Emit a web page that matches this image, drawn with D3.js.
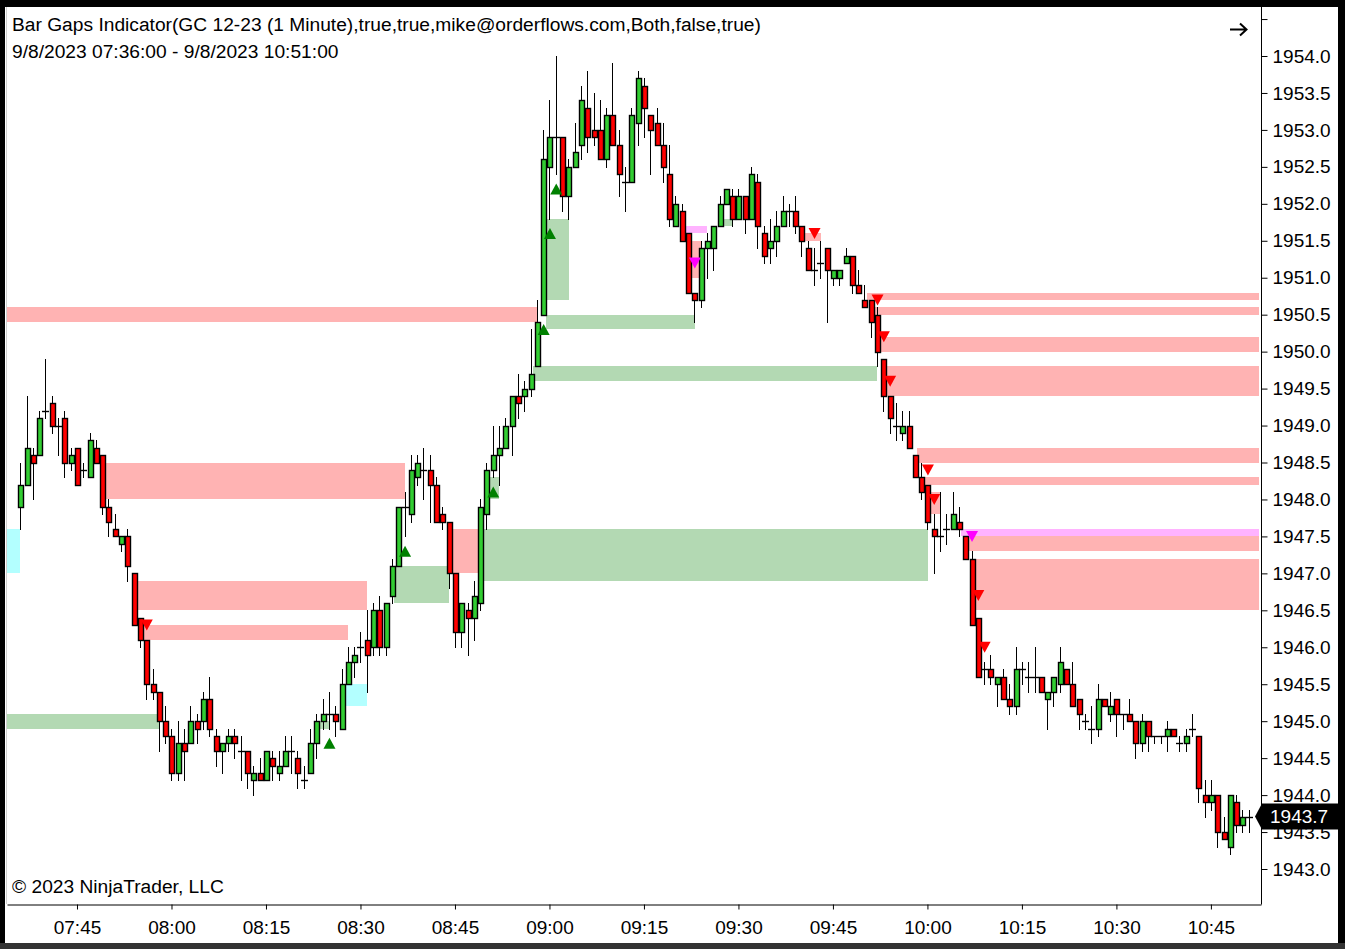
<!DOCTYPE html>
<html><head><meta charset="utf-8">
<script src="https://cdn.jsdelivr.net/npm/d3@7/dist/d3.min.js"></script>
<style>
html,body{margin:0;padding:0;background:#fff;overflow:hidden;}
svg{display:block;font-family:"Liberation Sans",Arial,sans-serif;}
</style></head><body>
<script>
// ---------- DATA ----------
const titleText = "Bar Gaps Indicator(GC 12-23 (1 Minute),true,true,mike@orderflows.com,Both,false,true)";
const rangeText = "9/8/2023 07:36:00 - 9/8/2023 10:51:00";
const copyrightText = "\u00A9 2023 NinjaTrader, LLC";
const startTime = "2023-09-08 07:36";
const lastPriceLabel = "1943.7";

const opens = [1947.9,1948.2,1948.6,1948.6,1949.2,1949.3,1949.0,1949.1,1948.5,1948.7,
1948.4,1948.3,1948.7,1948.6,1947.9,1947.6,1947.4,1947.5,1947.0,1946.4,
1946.1,1945.5,1945.4,1945.0,1944.8,1944.3,1944.7,1944.7,1945.0,1945.0,
1945.3,1944.8,1944.6,1944.7,1944.8,1944.6,1944.6,1944.2,1944.3,1944.2,
1944.5,1944.3,1944.4,1944.6,1944.5,1944.2,1944.3,1944.7,1945.0,1945.1,
1945.1,1944.9,1945.5,1945.8,1946.0,1946.1,1946.0,1946.5,1946.0,1946.7,
1947.1,1947.9,1947.8,1948.3,1948.4,1948.4,1948.2,1947.8,1947.7,1947.0,
1946.2,1946.5,1946.4,1946.6,1947.8,1948.4,1948.6,1948.7,1949.0,1949.4,
1949.4,1949.5,1949.8,1950.5,1952.5,1952.9,1952.9,1952.1,1952.5,1952.8,
1953.3,1953.0,1953.0,1952.6,1953.2,1952.8,1952.3,1952.3,1953.1,1953.6,
1953.2,1953.1,1952.8,1952.4,1951.7,1951.9,1951.6,1950.8,1950.7,1951.4,
1951.4,1951.7,1952.0,1952.1,1951.8,1952.1,1951.8,1952.3,1951.6,1951.4,
1951.5,1951.7,1951.9,1951.9,1951.7,1951.4,1951.1,1951.2,1951.4,1951.0,
1951.0,1951.2,1951.3,1950.9,1950.7,1950.7,1950.5,1949.9,1949.4,1949.0,
1948.9,1949.0,1948.6,1948.3,1948.2,1947.6,1947.5,1947.6,1947.6,1947.7,
1947.5,1947.2,1946.4,1945.7,1945.7,1945.5,1945.6,1945.3,1945.2,1945.7,
1945.6,1945.6,1945.6,1945.3,1945.4,1945.5,1945.7,1945.5,1945.3,1945.0,
1944.9,1944.9,1945.3,1945.1,1945.3,1945.1,1945.1,1945.0,1944.7,1945.0,
1944.8,1944.8,1944.8,1944.9,1944.7,1944.7,1944.9,1944.8,1944.0,1943.9,
1944.0,1943.5,1943.3,1943.9,1943.6,1943.7];
const highs = [1948.5,1949.4,1948.7,1949.2,1949.9,1949.4,1949.1,1949.2,1948.7,1948.7,
1948.5,1948.9,1948.8,1948.6,1948.0,1947.8,1947.5,1947.6,1947.0,1946.4,
1946.1,1945.7,1945.4,1945.2,1944.9,1945.0,1944.9,1945.2,1945.1,1945.4,
1945.6,1944.9,1944.7,1944.9,1944.9,1944.8,1944.6,1944.4,1944.5,1944.6,
1944.6,1944.6,1944.8,1944.8,1944.6,1944.4,1944.9,1945.1,1945.3,1945.4,
1945.2,1945.7,1946.0,1946.0,1946.2,1946.5,1946.6,1946.7,1946.6,1947.2,
1947.9,1948.1,1948.6,1948.6,1948.7,1948.6,1948.3,1947.9,1947.7,1947.0,
1946.6,1946.6,1946.9,1948.0,1948.5,1949.0,1949.0,1949.1,1949.4,1949.7,
1949.6,1950.3,1950.7,1953.0,1953.4,1954.0,1952.9,1952.6,1953.1,1953.6,
1953.8,1953.5,1953.4,1953.3,1953.9,1953.0,1952.5,1953.3,1953.8,1953.7,
1953.2,1953.3,1953.1,1952.8,1952.1,1952.0,1951.6,1950.8,1951.5,1951.6,
1951.7,1952.1,1952.2,1952.2,1952.2,1952.1,1952.5,1952.4,1951.7,1951.8,
1951.9,1952.1,1952.0,1952.1,1951.7,1951.5,1951.4,1951.5,1951.4,1951.1,
1951.1,1951.4,1951.3,1951.1,1950.9,1950.7,1950.6,1949.9,1949.4,1949.3,
1949.2,1949.2,1948.6,1948.5,1948.2,1947.8,1948.1,1947.8,1948.1,1947.9,
1947.5,1947.3,1946.4,1945.8,1945.9,1945.6,1945.7,1945.5,1946.0,1945.8,
1945.8,1946.0,1945.6,1945.4,1945.6,1946.0,1945.7,1945.8,1945.3,1945.1,
1945.2,1945.5,1945.3,1945.4,1945.3,1945.1,1945.3,1945.0,1945.1,1945.0,
1944.8,1944.8,1945.0,1944.9,1944.8,1944.9,1945.1,1944.8,1944.2,1944.2,
1944.0,1943.7,1944.0,1944.0,1943.8,1943.8];
const lows = [1947.6,1948.2,1948.0,1948.6,1949.1,1948.9,1948.6,1948.3,1948.4,1948.2,
1948.3,1948.3,1948.5,1947.8,1947.5,1947.5,1947.3,1946.9,1946.3,1946.0,
1945.3,1945.3,1944.6,1944.7,1944.2,1944.2,1944.2,1944.7,1944.7,1944.9,
1944.8,1944.4,1944.3,1944.6,1944.5,1944.2,1944.1,1944.0,1944.2,1944.2,
1944.2,1944.2,1944.4,1944.3,1944.1,1944.1,1944.3,1944.5,1944.9,1944.9,
1944.8,1944.9,1945.5,1945.6,1945.8,1945.4,1945.9,1945.9,1945.9,1946.6,
1947.1,1947.5,1947.7,1948.2,1948.0,1947.7,1947.7,1947.6,1946.8,1946.0,
1946.0,1945.9,1946.1,1946.5,1947.6,1948.3,1948.2,1948.7,1948.6,1949.1,
1949.2,1949.4,1949.8,1950.5,1951.8,1952.4,1951.9,1951.8,1952.5,1952.6,
1952.7,1952.8,1952.6,1952.5,1952.8,1952.1,1951.9,1952.3,1952.8,1952.9,
1952.4,1952.8,1952.3,1951.7,1951.7,1951.5,1950.8,1950.4,1950.6,1951.0,
1951.1,1951.7,1952.0,1951.7,1951.8,1951.6,1951.8,1951.4,1951.2,1951.2,
1951.3,1951.7,1951.7,1951.6,1951.3,1951.1,1950.9,1951.0,1950.4,1950.9,
1950.9,1951.2,1950.8,1950.8,1950.6,1950.2,1949.8,1949.2,1948.9,1948.8,
1948.8,1948.7,1948.3,1948.0,1947.6,1947.0,1947.3,1947.4,1947.6,1947.5,
1947.2,1946.3,1945.6,1945.5,1945.5,1945.2,1945.3,1945.1,1945.1,1945.5,
1945.4,1945.4,1945.4,1944.9,1945.2,1945.4,1945.5,1945.2,1944.9,1944.9,
1944.7,1944.8,1945.2,1945.0,1944.8,1944.9,1945.0,1944.5,1944.6,1944.6,
1944.7,1944.7,1944.6,1944.8,1944.6,1944.6,1944.8,1943.9,1943.7,1943.8,
1943.3,1943.4,1943.2,1943.5,1943.5,1943.5];
const closes = [1948.2,1948.7,1948.5,1949.1,1949.2,1949.0,1949.0,1948.5,1948.6,1948.2,
1948.4,1948.8,1948.5,1947.9,1947.7,1947.5,1947.5,1947.1,1946.3,1946.1,
1945.5,1945.4,1945.0,1944.8,1944.3,1944.7,1944.6,1945.0,1944.9,1945.3,
1944.9,1944.6,1944.7,1944.8,1944.7,1944.6,1944.3,1944.3,1944.2,1944.6,
1944.4,1944.4,1944.6,1944.6,1944.3,1944.2,1944.7,1945.0,1945.1,1945.1,
1945.0,1945.5,1945.8,1945.9,1946.0,1945.9,1946.5,1946.0,1946.6,1947.1,
1947.9,1947.9,1948.4,1948.5,1948.4,1948.2,1947.7,1947.7,1947.0,1946.2,
1946.6,1946.4,1946.7,1947.9,1948.4,1948.6,1948.7,1949.0,1949.4,1949.3,
1949.5,1949.7,1950.4,1952.6,1952.9,1952.9,1952.1,1952.5,1952.7,1953.4,
1952.9,1952.9,1952.6,1953.2,1952.8,1952.4,1952.3,1953.2,1953.7,1953.3,
1953.0,1952.8,1952.5,1951.8,1952.0,1951.5,1950.8,1950.7,1951.4,1951.5,
1951.7,1952.0,1952.2,1951.8,1952.1,1951.8,1952.4,1951.7,1951.3,1951.5,
1951.7,1951.9,1951.9,1951.7,1951.5,1951.1,1951.1,1951.2,1951.1,1951.1,
1951.1,1951.3,1950.9,1950.8,1950.6,1950.4,1950.0,1949.4,1949.1,1949.0,
1949.0,1948.7,1948.3,1948.1,1947.7,1947.5,1947.5,1947.6,1947.8,1947.6,
1947.2,1946.3,1945.6,1945.7,1945.6,1945.6,1945.3,1945.2,1945.7,1945.7,
1945.6,1945.6,1945.4,1945.4,1945.6,1945.8,1945.5,1945.2,1945.1,1945.0,
1944.9,1945.3,1945.2,1945.2,1945.1,1945.1,1945.0,1944.7,1945.0,1944.8,
1944.8,1944.8,1944.9,1944.8,1944.7,1944.8,1944.9,1944.1,1943.9,1944.0,
1943.5,1943.4,1944.0,1943.6,1943.7,1943.7];

// gap zones: start/end in bar index units, price top/bottom, kind
const gapStarts = [-3,-3,13.2,18.2,19.3,-3,51.4,47.3,59.3,68.0,73.1,74.2,81.4,83.4,83.3,105.3,106.3,111.4,124.3,134.4,135.3,136.4,137.3,142.3,143.3,144.2,149.3,150.2,151.3];
const gapEnds   = [82,0,61.1,55.0,52.0,22.0,55.0,49.0,68.0,73.1,144.1,76.0,136.0,107.1,87.1,109.0,108.2,113.1,127.1,196.7,196.7,196.7,196.7,196.7,196.7,146.1,196.7,196.7,196.7];
const gapTops   = [1950.6,1947.6,1948.5,1946.9,1946.3,1945.1,1945.5,1945.0,1947.1,1947.6,1947.6,1948.3,1949.8,1950.5,1951.8,1951.7,1951.5,1951.8,1951.6,1950.8,1950.6,1950.2,1949.8,1948.7,1948.3,1948.1,1947.6,1947.5,1947.2];
const gapBottoms= [1950.4,1947.0,1948.0,1946.5,1946.1,1944.9,1945.2,1944.9,1946.6,1947.0,1946.9,1948.0,1949.6,1950.3,1950.7,1951.6,1951.0,1951.7,1951.5,1950.7,1950.5,1950.0,1949.4,1948.5,1948.2,1947.8,1947.5,1947.3,1946.5];
const gapKinds  = ["bear","bullAlt","bear","bear","bear","bull","bullAlt","bull","bull","bear","bull","bull","bull","bull","bull","bearAlt","bear","bull","bear","bear","bear","bear","bear","bear","bear","bear","bearAlt","bear","bear"];

// signal markers
const markerBars   = [20,107,126,136,137,138,144,145,151,152,153,49,61,75,83,84,85];
const markerPrices = [1946.3,1951.2,1951.6,1950.7,1950.2,1949.6,1948.4,1948.0,1947.5,1946.7,1946.0,1944.7,1947.3,1948.1,1950.3,1951.6,1952.2];
const markerKinds  = ["down","downAlt","down","down","down","down","down","down","downAlt","down","down","up","up","up","up","up","up"];

const timeTicks  = ["07:45","08:00","08:15","08:30","08:45","09:00","09:15","09:30","09:45","10:00","10:15","10:30","10:45"];
const priceTicks = [1943.0,1943.5,1944.0,1944.5,1945.0,1945.5,1946.0,1946.5,1947.0,1947.5,1948.0,1948.5,1949.0,1949.5,1950.0,1950.5,1951.0,1951.5,1952.0,1952.5,1953.0,1953.5,1954.0,1954.5];
const priceLabels = ["1943.0","1943.5","1944.0","1944.5","1945.0","1945.5","1946.0","1946.5","1947.0","1947.5","1948.0","1948.5","1949.0","1949.5","1950.0","1950.5","1951.0","1951.5","1952.0","1952.5","1953.0","1953.5","1954.0"];
const lastPrice = 1943.7;

// ---------- STYLE ----------
const W = 1345, H = 949;
const plot = {l: 7, r: 1261, t: 7, b: 904};
const FONT = 19;
const TITLE_FONT = 19.2;
const gapColor = {bear: "#ffb3b3", bull: "#b3d9b3", bullAlt: "#b3ffff", bearAlt: "#ffb3ff"};
const markerColor = {down: "#ff0000", downAlt: "#ff00ff", up: "#008000"};
const upFill = "#32cd32", downFill = "#ff0000";

const parseT = d3.timeParse("%Y-%m-%d %H:%M");
const t0 = parseT(startTime);
const tAt = i => new Date(t0.getTime() + i * 60000);

const bars = opens.map((o, i) => ({i, t: tAt(i), o, h: highs[i], l: lows[i], c: closes[i]}));

const x = d3.scaleTime().domain([tAt(-2.1111), tAt(196.9524)]).range([plot.l, plot.r]);
const y = d3.scaleLinear().domain([1942.5265, 1954.663]).range([plot.b, plot.t]);

const svg = d3.select("body").append("svg").attr("width", W).attr("height", H);

// frame
svg.append("rect").attr("width", W).attr("height", H).attr("fill", "#000");
svg.append("rect").attr("x", 0).attr("y", 943).attr("width", W).attr("height", 6).attr("fill", "#333");
svg.append("rect").attr("x", 5).attr("y", 7).attr("width", 1333).attr("height", 936).attr("fill", "#fff");
svg.append("line").attr("x1", 6.5).attr("x2", 6.5).attr("y1", 7).attr("y2", 904).attr("stroke", "#d0d0d0");

svg.append("defs").append("clipPath").attr("id", "pc").append("rect")
  .attr("x", plot.l).attr("y", plot.t).attr("width", plot.r - plot.l).attr("height", plot.b - plot.t);
const g = svg.append("g").attr("clip-path", "url(#pc)");

// gap zones
const gaps = gapStarts.map((s, k) => ({s, e: gapEnds[k], top: gapTops[k], bot: gapBottoms[k], kind: gapKinds[k]}));
g.append("g").selectAll("rect").data(gaps).join("rect")
  .attr("x", d => Math.round(x(tAt(d.s))))
  .attr("width", d => Math.round(x(tAt(d.e))) - Math.round(x(tAt(d.s))))
  .attr("y", d => Math.round(y(d.top)))
  .attr("height", d => Math.round(y(d.bot)) - Math.round(y(d.top)))
  .attr("fill", d => gapColor[d.kind]);

// candles
const cg = g.append("g");
const cx = d => Math.round(x(d.t));
cg.selectAll("line.wick").data(bars).join("line").attr("class", "wick")
  .attr("x1", d => cx(d) + 0.5).attr("x2", d => cx(d) + 0.5)
  .attr("y1", d => Math.round(y(d.h))).attr("y2", d => Math.round(y(d.l)) + 1)
  .attr("stroke", "#000").attr("stroke-width", 1);
cg.selectAll("rect.body").data(bars.filter(d => Math.abs(d.o - d.c) > 0.05)).join("rect").attr("class", "body")
  .attr("x", d => cx(d) - 2 + 0.5)
  .attr("width", 5)
  .attr("y", d => Math.round(y(Math.max(d.o, d.c))) + 0.5)
  .attr("height", d => Math.round(y(Math.min(d.o, d.c))) - Math.round(y(Math.max(d.o, d.c))))
  .attr("fill", d => d.c > d.o ? upFill : downFill)
  .attr("stroke", "#000").attr("stroke-width", 1.4);
cg.selectAll("line.doji").data(bars.filter(d => Math.abs(d.o - d.c) <= 0.05)).join("line").attr("class", "doji")
  .attr("x1", d => cx(d) - 3).attr("x2", d => cx(d) + 4)
  .attr("y1", d => Math.round(y(d.c)) + 0.5).attr("y2", d => Math.round(y(d.c)) + 0.5)
  .attr("stroke", "#000").attr("stroke-width", 1.4);

// markers
const markers = markerBars.map((b, k) => ({b, p: markerPrices[k], kind: markerKinds[k]}));
g.append("g").selectAll("path").data(markers).join("path")
  .attr("d", d => {
    const mx = x(tAt(d.b)) + 0.5, my = y(d.p);
    return d.kind === "up"
      ? `M${mx - 6},${my + 5.5}L${mx + 6},${my + 5.5}L${mx},${my - 5.5}Z`
      : `M${mx - 6},${my - 5.5}L${mx + 6},${my - 5.5}L${mx},${my + 5.5}Z`;
  })
  .attr("fill", d => markerColor[d.kind]);

// axes
const xAxis = d3.axisBottom(x)
  .tickValues(timeTicks.map(s => parseT("2023-09-08 " + s)))
  .tickFormat(d3.timeFormat("%H:%M")).tickSize(5).tickPadding(11).tickSizeOuter(0);
const xa = svg.append("g").attr("transform", `translate(0,${plot.b + 0.5})`).call(xAxis);
xa.select(".domain").attr("stroke", "#000");
xa.selectAll("text").attr("font-size", FONT).attr("fill", "#000").attr("font-family", "Liberation Sans, Arial, sans-serif");

const yAxis = d3.axisRight(y).tickValues(priceTicks)
  .tickFormat(d => { const s = d.toFixed(1); return priceLabels.includes(s) ? s : ""; })
  .tickSize(6).tickPadding(5).tickSizeOuter(0);
const ya = svg.append("g").attr("transform", `translate(${plot.r + 0.5},0)`).call(yAxis);
ya.select(".domain").attr("d", `M0,${plot.t}V${plot.b + 0.5}`).attr("stroke", "#000");
ya.selectAll("text").attr("font-size", FONT).attr("fill", "#000").attr("font-family", "Liberation Sans, Arial, sans-serif");

// last price marker
const ly = Math.round(y(lastPrice)) - 0.5;
svg.append("path")
  .attr("d", `M${plot.r - 6},${ly}L${plot.r + 1},${ly - 13}L1338,${ly - 13}L1338,${ly + 13}L${plot.r + 1},${ly + 13}Z`)
  .attr("fill", "#000");
svg.append("text").attr("x", 1270).attr("y", ly).attr("dy", "0.35em")
  .attr("font-size", FONT).attr("fill", "#fff").text(lastPriceLabel);

// texts
svg.append("text").attr("x", 12).attr("y", 31).attr("font-size", TITLE_FONT).attr("fill", "#000").text(titleText);
svg.append("text").attr("x", 12).attr("y", 58).attr("font-size", TITLE_FONT).attr("fill", "#000").text(rangeText);
svg.append("text").attr("x", 12).attr("y", 893).attr("font-size", TITLE_FONT).attr("fill", "#000").text(copyrightText);

// navigation arrow (top right)
svg.append("path")
  .attr("d", "M1230,29.5H1246M1240,23.5L1246.5,29.5L1240,35.5")
  .attr("fill", "none").attr("stroke", "#000").attr("stroke-width", 2);
</script>
</body></html>
